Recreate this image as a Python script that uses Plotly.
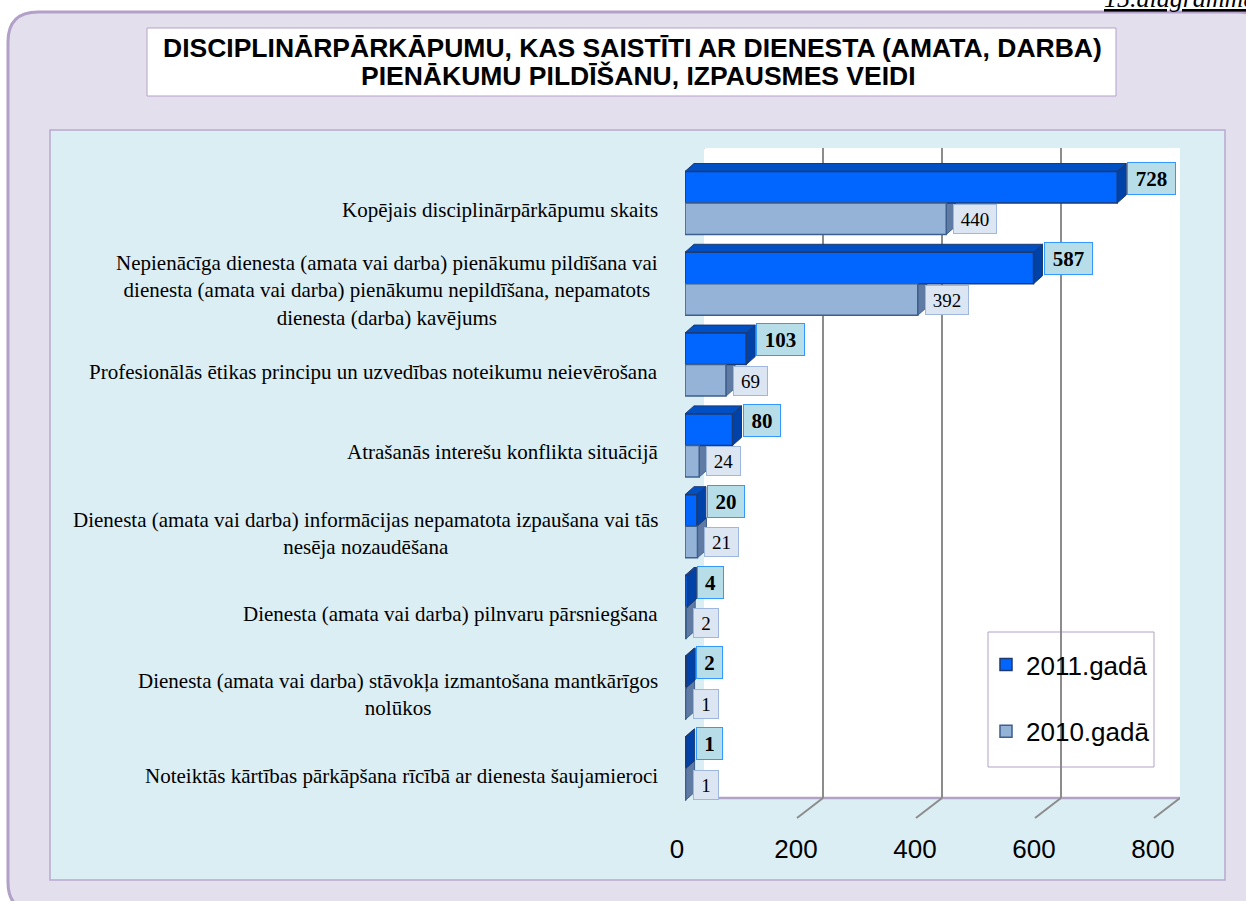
import plotly.graph_objects as go

# ---------------- data ----------------
categories = [
    "Kopējais disciplinārpārkāpumu skaits",
    "Nepienācīga dienesta (amata vai darba) pienākumu pildīšana vai<br>dienesta (amata vai darba) pienākumu nepildīšana, nepamatots<br>dienesta (darba) kavējums",
    "Profesionālās ētikas principu un uzvedības noteikumu neievērošana",
    "Atrašanās interešu konflikta situācijā",
    "Dienesta (amata vai darba) informācijas nepamatota izpaušana vai tās<br>nesēja nozaudēšana",
    "Dienesta (amata vai darba) pilnvaru pārsniegšana",
    "Dienesta (amata vai darba) stāvokļa izmantošana mantkārīgos<br>nolūkos",
    "Noteiktās kārtības pārkāpšana rīcībā ar dienesta šaujamieroci",
]
values_2011 = [728, 587, 103, 80, 20, 4, 2, 1]
values_2010 = [440, 392, 69, 24, 21, 2, 1, 1]
series_names = ["2011.gadā", "2010.gadā"]
x_ticks = [0, 200, 400, 600, 800]
x_max = 800
title_lines = ["DISCIPLINĀRPĀRKĀPUMU, KAS SAISTĪTI AR DIENESTA (AMATA, DARBA)",
               "PIENĀKUMU PILDĪŠANU, IZPAUSMES VEIDI"]
corner_note = "15.diagramma"

# ---------------- layout helpers ----------------
W, H = 1246, 901
def px(x):
    return x / W
def py(y):
    return 1 - y / H

SERIF = "Liberation Serif, Times New Roman, serif"
SANS = "Liberation Sans, Arial, sans-serif"

C2011, C2011_TOP, C2011_SIDE, C2011_EDGE = "#0066FF", "#0050C4", "#0042A8", "#1C3A70"
C2010, C2010_TOP, C2010_SIDE, C2010_EDGE = "#95B3D7", "#7F9DC4", "#5F7BA3", "#3D5F8E"

# pixel geometry of the three overlaid subplots
BACK_L, BACK_R, BACK_T, BACK_B = 704, 1180, 148, 798      # back wall (gridlines)
BAR_L, BAR_R, BAR_T, BAR_B = 685, 1160, 162.6, 809        # bars
TICK_L, TICK_R = 677, 1153                                 # front tick labels
DEPTH_DX, DEPTH_DY = -26, 20                               # wall depth (px)
BAR_DX_PX, BAR_DY_PX = 9, 8                                # bar depth (px)

n = len(categories)
ypos = list(range(n))
bargap = 0.22
half = (1 - bargap) / 2
ux = x_max / (BAR_R - BAR_L)          # data units per px (x)
uy = n / (BAR_B - BAR_T)              # data units per px (y)
DX = BAR_DX_PX * ux
DY = BAR_DY_PX * uy

fig = go.Figure()

# dummy traces so that the grid and tick subplots exist
fig.add_trace(go.Scatter(x=[None], y=[None], xaxis="x", yaxis="y", showlegend=False, hoverinfo="skip"))
fig.add_trace(go.Scatter(x=[None], y=[None], xaxis="x3", yaxis="y3", showlegend=False, hoverinfo="skip"))

fig.add_trace(go.Bar(
    y=ypos, x=values_2011, orientation="h", name=series_names[0],
    xaxis="x2", yaxis="y2", legendgroup="a",
    marker=dict(color=C2011, line=dict(color=C2011_EDGE, width=1.5)),
))
fig.add_trace(go.Bar(
    y=ypos, x=values_2010, orientation="h", name=series_names[1],
    xaxis="x2", yaxis="y2", legendgroup="b",
    marker=dict(color=C2010, line=dict(color=C2010_EDGE, width=1.5)),
))

shapes = []
# ---- paper decorations ----
def rounded_path(l, t, r, b, rad):
    rx = rad
    return (f"M {px(l)},{py(t+rx)} Q {px(l)},{py(t)} {px(l+rx)},{py(t)} "
            f"L {px(r-rx)},{py(t)} Q {px(r)},{py(t)} {px(r)},{py(t+rx)} "
            f"L {px(r)},{py(b-rx)} Q {px(r)},{py(b)} {px(r-rx)},{py(b)} "
            f"L {px(l+rx)},{py(b)} Q {px(l)},{py(b)} {px(l)},{py(b-rx)} Z")

shapes.append(dict(type="path", xref="paper", yref="paper", layer="below",
                   path=rounded_path(8, 12, 1268, 912, 30),
                   fillcolor="#E4DFEC", line=dict(color="#B1A0C7", width=3)))
shapes.append(dict(type="rect", xref="paper", yref="paper", layer="below",
                   x0=px(147), x1=px(1116), y0=py(96), y1=py(28),
                   fillcolor="white", line=dict(color="#B3A2C7", width=1)))
shapes.append(dict(type="rect", xref="paper", yref="paper", layer="below",
                   x0=px(50), x1=px(1225), y0=py(880), y1=py(130),
                   fillcolor="#DBEEF4", line=dict(color="#B8A9CE", width=1.5)))
shapes.append(dict(type="rect", xref="paper", yref="paper", layer="below",
                   x0=px(BACK_L), x1=px(BACK_R), y0=py(BACK_B), y1=py(BACK_T),
                   fillcolor="white", line=dict(width=0)))
shapes.append(dict(type="line", xref="paper", yref="paper", layer="below",
                   x0=px(BACK_L), x1=px(BACK_R), y0=py(BACK_B), y1=py(BACK_B),
                   line=dict(color="#B3A2C7", width=2.5)))
# legend frame
shapes.append(dict(type="rect", xref="paper", yref="paper", layer="below",
                   x0=px(988), x1=px(1154), y0=py(767), y1=py(632),
                   fillcolor="white", line=dict(color="#B3A2C7", width=1)))

# ---- 3D wall edges anchored on the back-wall axis ----
for t in x_ticks:
    shapes.append(dict(type="line", xref="x", yref="paper", xsizemode="pixel", xanchor=t,
                       x0=0, x1=DEPTH_DX, y0=py(BACK_B), y1=py(BACK_B + DEPTH_DY),
                       line=dict(color="#8C8C8C", width=2)))
shapes.append(dict(type="line", xref="x", yref="paper", xsizemode="pixel", xanchor=0,
                   x0=DEPTH_DX, x1=DEPTH_DX, y0=py(BACK_T + DEPTH_DY - 2), y1=py(BACK_B + DEPTH_DY),
                   line=dict(color="#8C8C8C", width=2)))
shapes.append(dict(type="line", xref="x", yref="paper", xsizemode="pixel", xanchor=0,
                   x0=0, x1=DEPTH_DX, y0=py(BACK_T), y1=py(BACK_T + DEPTH_DY - 2),
                   line=dict(color="#8C8C8C", width=2)))

# ---- 3D faces of the bars (data coordinates) ----
def faces(values, top_off, bot_off, c_top, c_side, c_edge):
    out = []
    for i, v in zip(ypos, values):
        yt, yb = i + top_off, i + bot_off
        top = f"M 0,{yt} L {v},{yt} L {v+DX},{yt-DY} L {DX},{yt-DY} Z"
        side = f"M {v},{yt} L {v+DX},{yt-DY} L {v+DX},{yb-DY} L {v},{yb} Z"
        out.append(dict(type="path", xref="x2", yref="y2", layer="below", path=top,
                        fillcolor=c_top, line=dict(color=c_edge, width=1)))
        out.append(dict(type="path", xref="x2", yref="y2", layer="below", path=side,
                        fillcolor=c_side, line=dict(color=c_edge, width=1)))
    return out

shapes += faces(values_2010, 0, half, C2010_TOP, C2010_SIDE, C2010_EDGE)
shapes += faces(values_2011, -half, 0, C2011_TOP, C2011_SIDE, C2011_EDGE)

annotations = []
# title
annotations.append(dict(xref="paper", yref="paper", x=px(632), y=py(48), text=title_lines[0],
                        showarrow=False, xanchor="center", yanchor="middle",
                        font=dict(family=SANS, size=26.5, color="black", weight="bold")))
annotations.append(dict(xref="paper", yref="paper", x=px(638), y=py(76), text=title_lines[1],
                        showarrow=False, xanchor="center", yanchor="middle",
                        font=dict(family=SANS, size=26.5, color="black", weight="bold")))
annotations.append(dict(xref="paper", yref="paper", x=px(1102), y=py(-1), text=corner_note,
                        showarrow=False, xanchor="left", yanchor="middle",
                        font=dict(family=SERIF, size=26, color="black", style="italic",
                                  lineposition="under")))
# category labels
for i, c in zip(ypos, categories):
    annotations.append(dict(xref="paper", yref="y2", x=px(660), y=i, yshift=-7, text=c,
                            showarrow=False, xanchor="right", yanchor="middle", align="center",
                            font=dict(family=SERIF, size=21, color="black")))
# value labels
for i, v in zip(ypos, values_2011):
    annotations.append(dict(xref="x2", yref="y2", x=v, y=i, xshift=10, yshift=25,
                            text=f"<b>{v}</b>", showarrow=False, xanchor="left", yanchor="middle",
                            align="center", width=12 + 11 * len(str(v)), height=29,
                            bgcolor="#B7DEE8", bordercolor="#3399FF", borderwidth=1, borderpad=1,
                            font=dict(family=SERIF, size=21, color="black")))
for i, v in zip(ypos, values_2010):
    annotations.append(dict(xref="x2", yref="y2", x=v, y=i, xshift=7, yshift=-16,
                            text=f"{v}", showarrow=False, xanchor="left", yanchor="middle",
                            align="center", width=13 + 9 * len(str(v)), height=26,
                            bgcolor="#DCE6F2", bordercolor="#9DB8DC", borderwidth=1, borderpad=1,
                            font=dict(family=SERIF, size=19, color="black")))

fig.update_layout(
    width=W, height=H, autosize=False,
    margin=dict(l=0, r=0, t=0, b=0, pad=0, autoexpand=False),
    paper_bgcolor="white", plot_bgcolor="rgba(0,0,0,0)",
    barmode="group", bargap=bargap, bargroupgap=0,
    shapes=shapes, annotations=annotations,
    showlegend=True,
    legend=dict(x=px(986), y=py(641), xanchor="left", yanchor="top",
                bgcolor="rgba(0,0,0,0)", borderwidth=0,
                font=dict(family=SANS, size=26, color="black"),
                traceorder="grouped", tracegroupgap=30, itemclick=False),
    xaxis=dict(domain=[px(BACK_L), px(BACK_R)], range=[-0.02, x_max + 0.02], anchor="y",
               tickvals=x_ticks, showgrid=True, gridcolor="#8C8C8C", gridwidth=2,
               showticklabels=False, ticks="", zeroline=False, showline=False, fixedrange=True),
    yaxis=dict(domain=[py(BACK_B), py(BACK_T)], range=[0, 1], anchor="x", visible=False,
               fixedrange=True),
    xaxis2=dict(domain=[px(BAR_L), px(BAR_R)], range=[0, x_max], anchor="y2", visible=False,
                fixedrange=True),
    yaxis2=dict(domain=[py(BAR_B), py(BAR_T)], range=[n - 0.5, -0.5], anchor="x2",
                visible=False, fixedrange=True),
    xaxis3=dict(domain=[px(TICK_L), px(TICK_R)], range=[0, x_max], anchor="y3",
                tickvals=x_ticks, ticktext=[str(t) for t in x_ticks], showgrid=False,
                ticks="outside", ticklen=8, tickcolor="rgba(0,0,0,0)", zeroline=False,
                showline=False, tickfont=dict(family=SANS, size=26, color="black"),
                fixedrange=True),
    yaxis3=dict(domain=[py(BACK_B + DEPTH_DY), py(BACK_B + DEPTH_DY - 5)], range=[0, 1],
                anchor="x3", visible=False, fixedrange=True),
)

fig.write_html("out.html", config={"displayModeBar": False},
               post_script="document.body.style.margin='0';document.body.style.overflow='hidden';")
